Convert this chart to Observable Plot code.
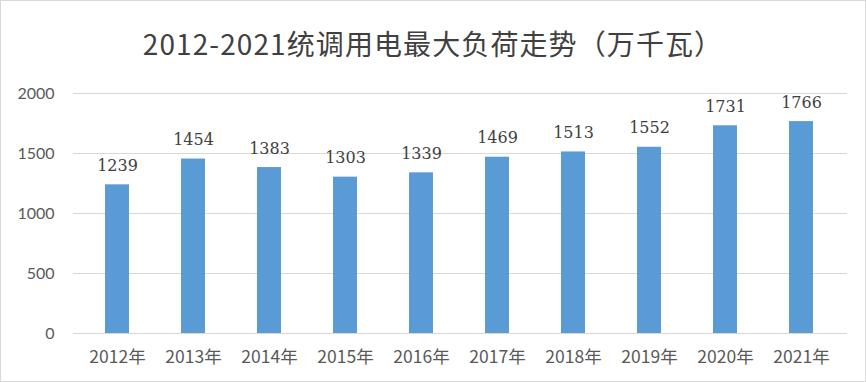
<!DOCTYPE html>
<html>
<head>
<meta charset="utf-8">
<script src="https://cdn.jsdelivr.net/npm/d3@7"></script>
<script src="https://cdn.jsdelivr.net/npm/@observablehq/plot@0.6"></script>
<style>
  html, body { margin: 0; padding: 0; background: #fff; }
  #chart { position: relative; width: 866px; height: 382px; box-sizing: border-box; border: 1px solid #d9d9d9; overflow: hidden; }
  #title { position: absolute; left: 0; top: 0; width: 864px; height: 70px; text-align: center; line-height: 84px;
           font-family: "Noto Sans CJK SC", sans-serif; font-size: 28px; letter-spacing: 1.1px; color: #404040; font-weight: 400; }
  #plot { position: absolute; left: -2px; top: 69px; }
</style>
</head>
<body>
<div id="chart">
  <div id="title">2012-2021统调用电最大负荷走势（万千瓦）</div>
  <div id="plot"></div>
</div>
<script>
const years = ["2012年","2013年","2014年","2015年","2016年","2017年","2018年","2019年","2020年","2021年"];
const loads = [1239, 1454, 1383, 1303, 1339, 1469, 1513, 1552, 1731, 1766];
const yTicks = [0, 500, 1000, 1500, 2000];

const data = years.map((y, i) => ({year: y, value: loads[i]}));

const chart = Plot.plot({
  width: 866,
  height: 313,
  marginTop: 23,
  marginBottom: 50,
  marginLeft: 76,
  marginRight: 22,
  x: {domain: years, paddingInner: 0.687, paddingOuter: 0.3435, label: null},
  y: {domain: [0, 2000], label: null},
  style: {background: "transparent"},
  marks: [
    Plot.ruleY(yTicks, {stroke: "#d9d9d9", strokeWidth: 1, insetLeft: -2, insetRight: -4}),
    Plot.barY(data, {x: "year", y: "value", fill: "#5b9bd5"}),
    Plot.text(data, {x: "year", y: "value", text: d => String(d.value), dy: -19,
      fontFamily: "DejaVu Serif", fontSize: 16, fill: "#404040"}),
    Plot.axisY({ticks: yTicks, tickSize: 0, tickPadding: 21, tickFormat: d => String(d),
      fontFamily: "Lato", fontSize: 16, color: "#595959", label: null}),
    Plot.axisX({tickSize: 0, tickPadding: 17, fontFamily: "Noto Sans CJK SC", fontSize: 17.5, color: "#595959", label: null})
  ]
});
document.getElementById("plot").appendChild(chart);
</script>
</body>
</html>
